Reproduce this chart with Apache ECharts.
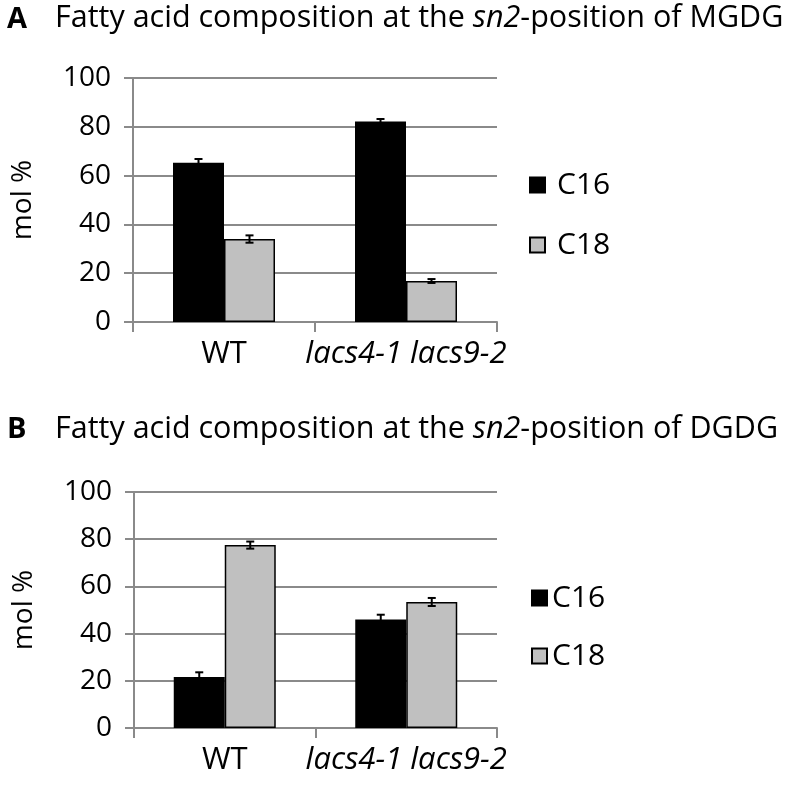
<!DOCTYPE html>
<html>
<head>
<meta charset="utf-8">
<script src="https://cdn.jsdelivr.net/npm/echarts@6/dist/echarts.min.js"></script>
<style>
  html, body { margin: 0; padding: 0; background: #fff; }
  #main { width: 789px; height: 785px; }
</style>
</head>
<body>
<div id="main"></div>
<script>
// data
var categories = ['WT', 'lacs4-1 lacs9-2'];
var yTicks = [0, 20, 40, 60, 80, 100];

// panel A: MGDG
var mgdgC16 = [65.3, 82.2];
var mgdgC18 = [34.0, 16.8];
var mgdgC16Err = [1.5, 1.0];
var mgdgC18Err = [1.5, 0.8];

// panel B: DGDG
var dgdgC16 = [21.6, 46.0];
var dgdgC18 = [77.5, 53.4];
var dgdgC16Err = [2.0, 2.0];
var dgdgC18Err = [1.5, 1.7];

var FONT = 'Open Sans';
var GRID_COLOR = '#8a8a8a';
var BAR_W = 51;

function errData(vals, errs) {
    return vals.map(function (v, i) { return [i, v - errs[i], v + errs[i]]; });
}

// side: -1 for C16 (left bar), +1 for C18 (right bar)
function errRender(side) {
    return function (params, api) {
        var lo = api.coord([api.value(0), api.value(1)]);
        var hi = api.coord([api.value(0), api.value(2)]);
        var x = lo[0] + side * BAR_W / 2;
        var cap = 4;
        var st = { stroke: '#000', lineWidth: 2 };
        return {
            type: 'group',
            children: [
                { type: 'line', shape: { x1: x, y1: lo[1], x2: x, y2: hi[1] }, style: st },
                { type: 'line', shape: { x1: x - cap, y1: lo[1], x2: x + cap, y2: lo[1] }, style: st },
                { type: 'line', shape: { x1: x - cap, y1: hi[1], x2: x + cap, y2: hi[1] }, style: st }
            ]
        };
    };
}

function xAxisOpt(gi) {
    return {
        type: 'category', gridIndex: gi, data: categories,
        axisLine: { lineStyle: { color: GRID_COLOR, width: 2 } },
        axisTick: { show: true, length: 10, lineStyle: { color: GRID_COLOR, width: 2 } },
        axisLabel: {
            interval: 0, margin: 17, color: '#000', fontFamily: FONT, fontSize: 31,
            formatter: function (v, i) { return i === 1 ? '{i|' + v + '}' : v; },
            rich: { i: { fontStyle: 'italic', fontFamily: FONT, fontSize: 31, color: '#000' } }
        }
    };
}

function yAxisOpt(gi) {
    return {
        type: 'value', gridIndex: gi, min: yTicks[0], max: yTicks[yTicks.length - 1], interval: 20,
        name: 'mol %', nameLocation: 'middle', nameRotate: 90, nameGap: 96,
        nameTextStyle: { color: '#000', fontFamily: FONT, fontSize: 28 },
        axisLine: { show: true, lineStyle: { color: GRID_COLOR, width: 2 } },
        axisTick: { show: true, length: 9, lineStyle: { color: GRID_COLOR, width: 2 } },
        splitLine: { lineStyle: { color: GRID_COLOR, width: 2 } },
        axisLabel: { margin: 22, color: '#000', fontFamily: FONT, fontSize: 28 }
    };
}

function barSeries(name, data, gi, color) {
    return {
        name: name, type: 'bar', xAxisIndex: gi, yAxisIndex: gi, data: data,
        barWidth: BAR_W, barGap: '0%',
        itemStyle: { color: color, borderColor: '#000', borderWidth: 1.5 }
    };
}

function errSeries(vals, errs, gi, side) {
    return {
        type: 'custom', xAxisIndex: gi, yAxisIndex: gi, z: 5,
        data: errData(vals, errs), renderItem: errRender(side), silent: true
    };
}

var titleRich = {
    n: { fontFamily: FONT, fontSize: 30.5, fontWeight: 'normal', color: '#000' },
    i: { fontFamily: FONT, fontSize: 30.5, fontWeight: 'normal', color: '#000', fontStyle: 'italic' }
};
var letterStyle = { fontFamily: FONT, fontSize: 29, fontWeight: 'bold', color: '#000' };

var chart = echarts.init(document.getElementById('main'));
chart.setOption({
    backgroundColor: '#fff',
    animation: false,
    title: [
        { text: 'A', left: 2, top: 0, textStyle: letterStyle },
        { text: '{n|Fatty acid composition at the }{i|sn2}{n|-position of MGDG}', left: 50, top: -2, textStyle: { fontWeight: 'normal', rich: titleRich } },
        { text: 'B', left: 2, top: 410, textStyle: letterStyle },
        { text: '{n|Fatty acid composition at the }{i|sn2}{n|-position of DGDG}', left: 50, top: 409, textStyle: { fontWeight: 'normal', rich: titleRich } }
    ],
    legend: [
        {
            orient: 'vertical', left: 524, top: 165, itemWidth: 15, itemHeight: 15, itemGap: 30,
            icon: 'rect', data: ['C16', 'C18'],
            textStyle: { fontFamily: FONT, fontSize: 30, color: '#000', lineHeight: 30, padding: [0, 0, 0, 7] }
        },
        {
            orient: 'vertical', left: 526, top: 578, itemWidth: 15, itemHeight: 15, itemGap: 28,
            icon: 'rect', data: ['C16', 'C18'],
            textStyle: { fontFamily: FONT, fontSize: 30, color: '#000', lineHeight: 30, padding: [0, 0, 0, 0] }
        }
    ],
    grid: [
        { left: 133, top: 78, width: 364, height: 244 },
        { left: 134, top: 492, width: 363, height: 236 }
    ],
    xAxis: [xAxisOpt(0), xAxisOpt(1)],
    yAxis: [yAxisOpt(0), yAxisOpt(1)],
    series: [
        barSeries('C16', mgdgC16, 0, '#000'),
        barSeries('C18', mgdgC18, 0, '#c0c0c0'),
        errSeries(mgdgC16, mgdgC16Err, 0, -1),
        errSeries(mgdgC18, mgdgC18Err, 0, 1),
        barSeries('C16', dgdgC16, 1, '#000'),
        barSeries('C18', dgdgC18, 1, '#c0c0c0'),
        errSeries(dgdgC16, dgdgC16Err, 1, -1),
        errSeries(dgdgC18, dgdgC18Err, 1, 1)
    ]
});
</script>
</body>
</html>
